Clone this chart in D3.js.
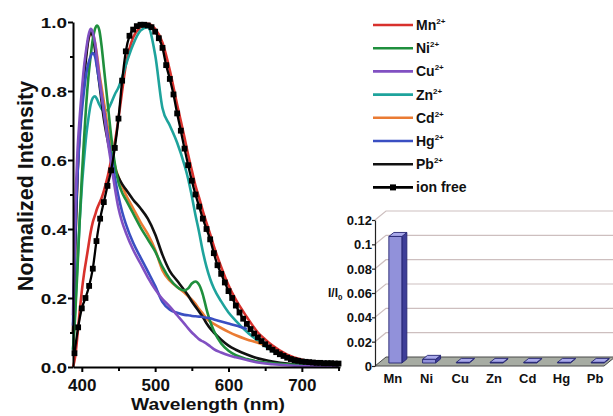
<!DOCTYPE html>
<html>
<head>
<meta charset="utf-8">
<script src="https://cdn.jsdelivr.net/npm/d3@7"></script>
<style>
  html, body { margin: 0; padding: 0; background: #fff; }
  svg { display: block; }
  text { font-family: "Liberation Sans", Arial, sans-serif; font-weight: bold; fill: #111; }
</style>
</head>
<body>
<svg id="chart" width="613" height="416"></svg>
<script>
// ---- Emission spectra (normalized) ----
const wavelengthGrid = [388, 391, 394, 397, 400, 403, 406, 409, 412, 415, 418, 421, 424, 427, 430, 435, 440, 445, 450, 455, 460, 470, 480, 490, 500, 510, 520, 530, 540, 545, 550, 555, 560, 565, 570, 575, 580, 590, 600, 610, 625, 640, 650, 660, 680, 700, 725, 750];

const mnIntensity = [0.00, 0.03, 0.09, 0.16, 0.22, 0.27, 0.31, 0.35, 0.39, 0.42, 0.44, 0.46, 0.475, 0.49, 0.51, 0.55, 0.60, 0.65, 0.72, 0.80, 0.875, 0.955, 0.985, 0.995, 0.98, 0.94, 0.86, 0.76, 0.665, 0.615, 0.57, 0.525, 0.49, 0.452, 0.418, 0.385, 0.35, 0.29, 0.237, 0.195, 0.145, 0.10, 0.08, 0.062, 0.036, 0.021, 0.013, 0.01];
const niIntensity = [0.05, 0.15, 0.28, 0.42, 0.55, 0.66, 0.76, 0.84, 0.90, 0.95, 0.98, 0.99, 0.975, 0.93, 0.87, 0.77, 0.67, 0.59, 0.535, 0.505, 0.485, 0.445, 0.405, 0.37, 0.335, 0.29, 0.255, 0.232, 0.222, 0.228, 0.242, 0.248, 0.238, 0.21, 0.168, 0.132, 0.105, 0.068, 0.047, 0.034, 0.023, 0.016, 0.013, 0.011, 0.008, 0.006, 0.004, 0.003];
const cuIntensity = [0.15, 0.45, 0.62, 0.72, 0.80, 0.87, 0.92, 0.96, 0.98, 0.97, 0.94, 0.89, 0.84, 0.79, 0.74, 0.66, 0.59, 0.52, 0.46, 0.42, 0.39, 0.34, 0.30, 0.26, 0.225, 0.197, 0.175, 0.15, 0.125, 0.112, 0.10, 0.09, 0.08, 0.074, 0.068, 0.06, 0.052, 0.042, 0.034, 0.028, 0.02, 0.013, 0.01, 0.008, 0.005, 0.003, 0.002, 0.001];
const znIntensity = [0.05, 0.17, 0.30, 0.42, 0.52, 0.60, 0.67, 0.72, 0.76, 0.78, 0.785, 0.775, 0.76, 0.748, 0.742, 0.745, 0.765, 0.79, 0.81, 0.84, 0.875, 0.935, 0.975, 0.985, 0.905, 0.75, 0.70, 0.65, 0.585, 0.545, 0.495, 0.44, 0.39, 0.335, 0.29, 0.255, 0.228, 0.19, 0.158, 0.134, 0.102, 0.076, 0.06, 0.047, 0.03, 0.016, 0.007, 0.004];
const cdIntensity = [0.10, 0.35, 0.55, 0.68, 0.77, 0.85, 0.91, 0.95, 0.965, 0.965, 0.94, 0.90, 0.85, 0.81, 0.77, 0.70, 0.64, 0.585, 0.55, 0.525, 0.50, 0.46, 0.42, 0.385, 0.34, 0.28, 0.25, 0.232, 0.215, 0.205, 0.195, 0.183, 0.168, 0.155, 0.14, 0.132, 0.125, 0.113, 0.102, 0.092, 0.08, 0.07, 0.062, null, null, null, null, null];
const hgIntensity = [0.12, 0.38, 0.55, 0.66, 0.74, 0.80, 0.85, 0.88, 0.90, 0.91, 0.90, 0.865, 0.825, 0.785, 0.745, 0.675, 0.61, 0.55, 0.495, 0.45, 0.415, 0.36, 0.318, 0.277, 0.235, 0.188, 0.166, 0.157, 0.151, 0.15, 0.148, 0.147, 0.146, 0.145, 0.143, 0.141, 0.138, 0.132, 0.126, 0.12, 0.11, null, null, null, null, null, null, null];
const pbIntensity = [0.10, 0.35, 0.55, 0.68, 0.77, 0.84, 0.90, 0.95, 0.97, 0.96, 0.92, 0.87, 0.82, 0.77, 0.72, 0.66, 0.61, 0.575, 0.55, 0.53, 0.515, 0.485, 0.46, 0.43, 0.385, 0.325, 0.278, 0.25, 0.222, 0.207, 0.19, 0.175, 0.16, 0.145, 0.127, 0.112, 0.1, 0.079, 0.062, 0.05, 0.036, 0.025, 0.02, 0.016, 0.01, 0.007, 0.004, 0.003];

// Ion-free spectrum, sampled every 5 nm (one marker per sample)
const ionFreeWavelength = d3.range(390, 751, 5);
const ionFreeIntensity = [0.04, 0.115, 0.17, 0.20, 0.235, 0.285, 0.365, 0.43, 0.478, 0.525, 0.57, 0.635, 0.72, 0.83, 0.915, 0.96, 0.978, 0.988, 0.992, 0.992, 0.99, 0.985, 0.972, 0.953, 0.925, 0.875, 0.835, 0.79, 0.735, 0.685, 0.633, 0.585, 0.54, 0.50, 0.465, 0.43, 0.40, 0.37, 0.33, 0.295, 0.27, 0.245, 0.22, 0.20, 0.178, 0.158, 0.14, 0.125, 0.11, 0.097, 0.086, 0.075, 0.066, 0.057, 0.05, 0.043, 0.037, 0.032, 0.027, 0.023, 0.02, 0.018, 0.016, 0.015, 0.014, 0.013, 0.012, 0.012, 0.011, 0.011, 0.011, 0.01, 0.01];

const ionNames = ["Mn", "Ni", "Cu", "Zn", "Cd", "Hg", "Pb"];
const ionColors = ["#d8312c", "#1f8f3d", "#8150c2", "#1ea39c", "#ea7b33", "#3a4fc2", "#111111"];
const ionSeries = [mnIntensity, niIntensity, cuIntensity, znIntensity, cdIntensity, hgIntensity, pbIntensity];
const drawOrder = [0, 3, 4, 6, 1, 5, 2];

const xMajorTicks = [400, 500, 600, 700];
const xMinorTicks = [450, 550, 650, 750];
const yMajorTicks = [0, 0.2, 0.4, 0.6, 0.8, 1.0];
const yMinorTicks = [0.1, 0.3, 0.5, 0.7, 0.9];

// ---- Inset: quenching ratio I/I0 ----
const barCategories = ["Mn", "Ni", "Cu", "Zn", "Cd", "Hg", "Pb"];
const barValues = [0.104, 0.003, 0.0005, 0.0005, 0.0005, 0.0005, 0.0005];
const barTicks = [0, 0.02, 0.04, 0.06, 0.08, 0.1, 0.12];

const svg = d3.select("#chart");

// ================= Main spectra panel =================
const x = d3.scaleLinear().domain([388, 752]).range([73, 340]);
const y = d3.scaleLinear().domain([0, 1]).range([367, 22]);

const main = svg.append("g");

// lines
const line = d3.line()
  .defined(d => d[1] != null)
  .x(d => x(d[0]))
  .y(d => y(d[1]))
  .curve(d3.curveMonotoneX);

drawOrder.forEach(i => {
  const pts = wavelengthGrid.map((w, k) => [w, ionSeries[i][k]]);
  main.append("path")
    .attr("d", line(pts))
    .attr("fill", "none")
    .attr("stroke", ionColors[i])
    .attr("stroke-width", 2.6)
    .attr("stroke-linejoin", "round");
});

const ionPts = ionFreeWavelength.map((w, k) => [w, ionFreeIntensity[k]]);
main.append("path")
  .attr("d", line(ionPts))
  .attr("fill", "none")
  .attr("stroke", "#000")
  .attr("stroke-width", 2.3);
main.append("g").selectAll("rect")
  .data(ionPts)
  .join("rect")
  .attr("x", d => x(d[0]) - 2.9)
  .attr("y", d => y(d[1]) - 2.9)
  .attr("width", 5.8)
  .attr("height", 5.8)
  .attr("fill", "#000");

// y axis
const yAxisMajor = main.append("g")
  .attr("transform", "translate(73,0)")
  .call(d3.axisLeft(y).tickValues(yMajorTicks).tickSize(5).tickSizeOuter(0).tickFormat(d3.format(".1f")));
main.append("g")
  .attr("transform", "translate(73,0)")
  .call(d3.axisLeft(y).tickValues(yMinorTicks).tickSize(3).tickSizeOuter(0).tickFormat(""))
  .call(g => g.select(".domain").remove());
yAxisMajor.selectAll("text")
  .attr("x", 0).attr("dy", null)
  .attr("transform", "translate(-6,5) scale(1.35,1)")
  .style("font-size", "14px");

// x axis
const xAxisMajor = main.append("g")
  .attr("transform", "translate(0,367)")
  .call(d3.axisBottom(x).tickValues(xMajorTicks).tickSize(5).tickSizeOuter(0).tickFormat(d3.format("d")));
main.append("g")
  .attr("transform", "translate(0,367)")
  .call(d3.axisBottom(x).tickValues(xMinorTicks).tickSize(4).tickSizeOuter(0).tickFormat(""))
  .call(g => g.select(".domain").remove());
xAxisMajor.selectAll("text")
  .attr("y", 24).attr("dy", null)
  .style("font-size", "17px");

main.selectAll(".domain, .tick line")
  .attr("stroke", "#000")
  .attr("stroke-width", 2);
main.selectAll(".tick text").attr("fill", "#111");

// axis titles
main.append("text")
  .attr("transform", "translate(208,410) scale(1.2,1)")
  .attr("text-anchor", "middle")
  .style("font-size", "16px")
  .text("Wavelength (nm)");
main.append("text")
  .attr("transform", "translate(33,186) rotate(-90)")
  .attr("text-anchor", "middle")
  .style("font-size", "21.5px")
  .text("Normalized Intensity");

// legend
const legend = svg.append("g");
const legendNames = ionNames.concat(["ion free"]);
legendNames.forEach((name, i) => {
  const ly = 25 + i * 23.2;
  const isFree = i === ionNames.length;
  legend.append("line")
    .attr("x1", 373).attr("x2", 413)
    .attr("y1", ly).attr("y2", ly)
    .attr("stroke", isFree ? "#000" : ionColors[i])
    .attr("stroke-width", 2.6);
  if (isFree) {
    legend.append("rect")
      .attr("x", 390).attr("y", ly - 3).attr("width", 6).attr("height", 6)
      .attr("fill", "#000");
  }
  const t = legend.append("text")
    .attr("x", 416).attr("y", ly + 5)
    .style("font-size", "14px");
  t.append("tspan").text(name);
  if (!isFree) {
    t.append("tspan").attr("dy", -6).style("font-size", "8px").text("2+");
  }
});

// ================= Inset bar chart =================
const yb = d3.scaleLinear().domain([0, 0.12]).range([366, 220]);
const xb = d3.scaleBand().domain(barCategories).range([376, 612]);
const depthX = 11, depthY = -9;     // receding floor / wall offset
const barDX = 5, barDY = -4;        // bar top / side offset

const inset = svg.append("g");

// back-wall gridlines
barTicks.filter(v => v > 0).forEach(v => {
  const gy = yb(v);
  inset.append("path")
    .attr("d", `M375,${gy}L${375 + depthX},${gy + depthY}H613`)
    .attr("fill", "none")
    .attr("stroke", "#cdbfbf")
    .attr("stroke-width", 1.2);
});

// floor
const fy = yb(0);
inset.append("path")
  .attr("d", `M375,${fy}L${375 + depthX},${fy + depthY}H615L${615 - depthX},${fy}Z`)
  .attr("fill", "#a7aca3")
  .attr("stroke", "#4a4a4a")
  .attr("stroke-width", 1);

// 3D columns
barValues.forEach((v, i) => {
  const c = xb(barCategories[i]) + xb.bandwidth() / 2;
  const x0 = c - 4, x1 = c + 9;
  const base = fy - 3;
  const top = base - (yb(0) - yb(v));
  const g = inset.append("g").attr("stroke", "#262673").attr("stroke-width", 0.9).attr("stroke-linejoin", "round");
  g.append("path")
    .attr("d", `M${x1},${base}L${x1 + barDX},${base + barDY}V${top + barDY}L${x1},${top}Z`)
    .attr("fill", "#3e3e98");
  g.append("path")
    .attr("d", `M${x0},${top}L${x0 + barDX},${top + barDY}H${x1 + barDX}L${x1},${top}Z`)
    .attr("fill", "#a9a9ea");
  g.append("rect")
    .attr("x", x0).attr("y", top)
    .attr("width", x1 - x0).attr("height", Math.max(base - top, 0.6))
    .attr("fill", "#9191da");
});

// inset y axis
const yAxisB = inset.append("g")
  .attr("transform", "translate(375,0)")
  .call(d3.axisLeft(yb).tickValues(barTicks).tickSize(3).tickSizeOuter(0)
    .tickFormat(d => d === 0 ? "0" : d3.format("~g")(d)));
yAxisB.selectAll(".domain, .tick line").attr("stroke", "#222").attr("stroke-width", 1.2);
yAxisB.selectAll("text")
  .attr("x", -3).attr("dy", "0.35em")
  .attr("fill", "#111")
  .style("font-size", "13px");

// category labels
inset.append("g").selectAll("text")
  .data(barCategories)
  .join("text")
  .attr("x", d => xb(d) + xb.bandwidth() / 2)
  .attr("y", 383)
  .attr("text-anchor", "middle")
  .style("font-size", "13px")
  .text(d => d);

// inset y title
const it = inset.append("text")
  .attr("x", 328).attr("y", 297)
  .style("font-size", "12px");
it.append("tspan").text("I/I");
it.append("tspan").attr("dy", 3).style("font-size", "8px").text("0");
</script>
</body>
</html>
